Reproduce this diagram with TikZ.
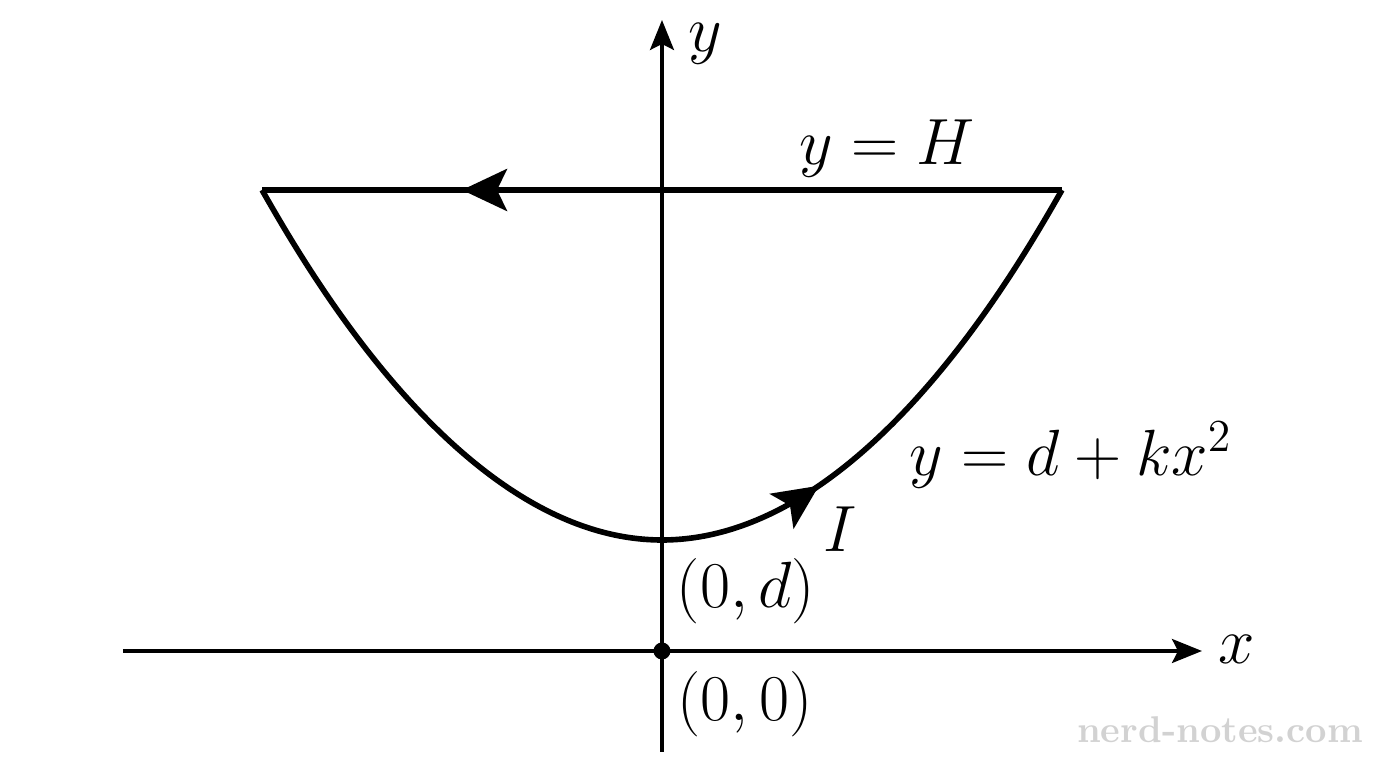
\RequirePackage{fix-cm}
\documentclass[tikz,border=0pt]{standalone}
\usepackage{amsmath,amssymb}
\usetikzlibrary{arrows.meta,decorations.markings}

\tikzset{
  axis/.style={line width=0.9pt,-{Stealth[length=0.3cm,width=0.24cm,inset=0.06cm]}},
  curve/.style={line width=1.6pt},
  midarrow/.style={postaction={decorate},decoration={markings,
      mark=at position #1 with {\arrow{Stealth[length=0.45cm,width=0.42cm,inset=0.1cm]}}}},
  lab/.style={inner sep=0pt,font=\fontsize{18.6}{22}\selectfont},
}

\begin{document}
\begin{tikzpicture}
				\useasboundingbox (-6.62,-1.17) rectangle (7.14,6.51);
				% axes
				\coordinate (xl) at (-5.39,0); \coordinate (xr) at (5.40,0);
				\coordinate (yb) at (0,-1.01); \coordinate (yt) at (0,6.31);
				\draw[axis] (xl) -- (xr);
				\draw[axis] (yb) -- (yt);
				\node[lab] (xlab) at (5.75,0.02){$x$};
				\node[lab] (ylab) at (0.43,6.07){$y$};
				% contour
				\coordinate (pl) at (-4,4.61); \coordinate (pr) at (4,4.61);
				\coordinate (pv) at (0,1.11);
				\draw[curve,midarrow=0.652] (pl) parabola bend (pv) (pr);
				\draw[curve,midarrow=0.75] (pr) -- (pl);
				\node[lab] (top) at (2.25,5.02){$y=H$};
				\node[lab] (par) at (4.09,1.96){$y=d+kx^2$};
				\node[lab] (cur) at (1.78,1.22){$I$};
				% points
				\fill (0,0) circle (0.085);
				\node[lab] (pd) at (0.84,0.60){$(0,d)$};
				\node[lab] (po) at (0.83,-0.53){$(0,0)$};
				\node[text=gray!35,font=\fontsize{10.6}{13}\selectfont\bfseries] (wm) at (5.58,-0.79){nerd-notes.com};
				\end{tikzpicture}
\end{document}
